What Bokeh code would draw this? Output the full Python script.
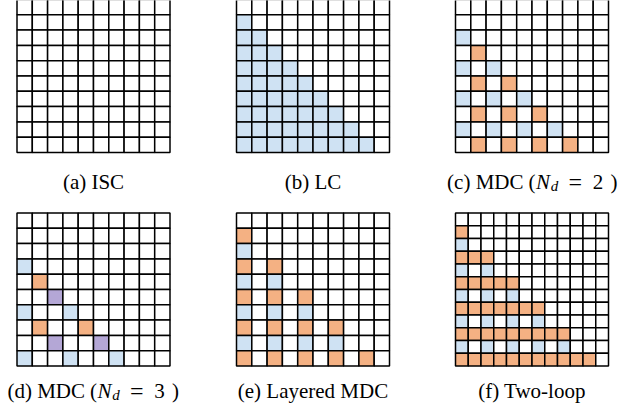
from bokeh.plotting import figure
from bokeh.models import Range1d, ColumnDataSource
from bokeh.core.properties import value
from bokeh.embed import file_html
from bokeh.resources import INLINE

# ---- data: cell patterns per panel ('.' empty, B blue, O orange, P purple) ----
PANEL_A = [
    "..........",
    "..........",
    "..........",
    "..........",
    "..........",
    "..........",
    "..........",
    "..........",
    "..........",
    "..........",
]
PANEL_B = [
    "..........",
    "B.........",
    "BB........",
    "BBB.......",
    "BBBB......",
    "BBBBB.....",
    "BBBBBB....",
    "BBBBBBB...",
    "BBBBBBBB..",
    "BBBBBBBBB.",
]
PANEL_C = [
    "..........",
    "..........",
    "B.........",
    ".O........",
    "B.B.......",
    ".O.O......",
    "B.B.B.....",
    ".O.O.O....",
    "B.B.B.B...",
    ".O.O.O.O..",
]
PANEL_D = [
    "..........",
    "..........",
    "..........",
    "B.........",
    ".O........",
    "..P.......",
    "B..B......",
    ".O..O.....",
    "..P..P....",
    "B..B..B...",
]
PANEL_E = [
    "..........",
    "O.........",
    "B.........",
    "O.O.......",
    "B.B.......",
    "O.O.O.....",
    "B.B.B.....",
    "O.O.O.O...",
    "B.B.B.B...",
    "O.O.O.O.O.",
]
PANEL_F = [
    "............",
    "O...........",
    "B...........",
    "OOO.........",
    "B.B.........",
    "OOOOO.......",
    "B.B.B.......",
    "OOOOOOO.....",
    "B.B.B.B.....",
    "OOOOOOOOO...",
    "B.B.B.B.B...",
    "OOOOOOOOOOO.",
]
PANELS = [PANEL_A, PANEL_B, PANEL_C, PANEL_D, PANEL_E, PANEL_F]

# captions: (plain text, digit for the N_d math part or None)
CAPTIONS = [
    ("(a) ISC", None),
    ("(b) LC", None),
    ("(c) MDC", "2"),
    ("(d) MDC", "3"),
    ("(e) Layered MDC", None),
    ("(f) Two-loop", None),
]

COLORS = {".": "#ffffff", "B": "#cfe2f3", "O": "#f4b183", "P": "#b4a7d6"}

# ---- layout ----
COL_X = [16.5, 236.0, 455.0]
ROW_Y = [-1.0, 212.5]
SIZE = 153.0
CAP_BASE = [181.0, 390.5]
SERIF = "'Liberation Serif', 'Times New Roman', Times, serif"
FS = "21px"

p = figure(width=638, height=408, output_backend="svg", toolbar_location=None,
           x_range=Range1d(0, 638), y_range=Range1d(408, 0),
           min_border=0, min_border_left=0, min_border_right=0,
           min_border_top=0, min_border_bottom=0)
p.axis.visible = False
p.grid.visible = False
p.outline_line_color = None
p.background_fill_color = "white"
p.border_fill_color = "white"

xs, ys, ws, hs, cs = [], [], [], [], []
for i, pat in enumerate(PANELS):
    n = len(pat)
    cell = SIZE / n
    x0 = COL_X[i % 3]
    y0 = ROW_Y[i // 3]
    for r, row in enumerate(pat):
        for c, ch in enumerate(row):
            xs.append(x0 + (c + 0.5) * cell)
            ys.append(y0 + (r + 0.5) * cell)
            ws.append(cell)
            hs.append(cell)
            cs.append(COLORS[ch])

src = ColumnDataSource(dict(x=xs, y=ys, w=ws, h=hs, c=cs))
p.rect(x="x", y="y", width="w", height="h", fill_color="c", line_color="black",
       line_width=1.5, source=src)


def txt(x, y, s, size=FS, style="normal", align="center"):
    p.text(x=[x], y=[y], text=[s], text_font=value(SERIF), text_font_style=style,
           text_font_size=value(size), text_align=align,
           text_baseline="alphabetic", text_color="black")


for i, (label, digit) in enumerate(CAPTIONS):
    cx = COL_X[i % 3] + SIZE / 2
    base = CAP_BASE[i // 3]
    if digit is None:
        txt(cx, base, label)
    else:
        sx = cx - 80.5
        txt(sx + 72, base, label, align="right")
        txt(sx + 80.5, base, "(")
        txt(sx + 91.5, base, "N", style="italic")
        txt(sx + 103, base + 4, "d", size="15px", style="italic")
        txt(sx + 123.8, base, "=", size="24px")
        txt(sx + 146.5, base, digit)
        txt(sx + 162.5, base, ")")

open("out.html", "w").write(file_html(p, INLINE))
